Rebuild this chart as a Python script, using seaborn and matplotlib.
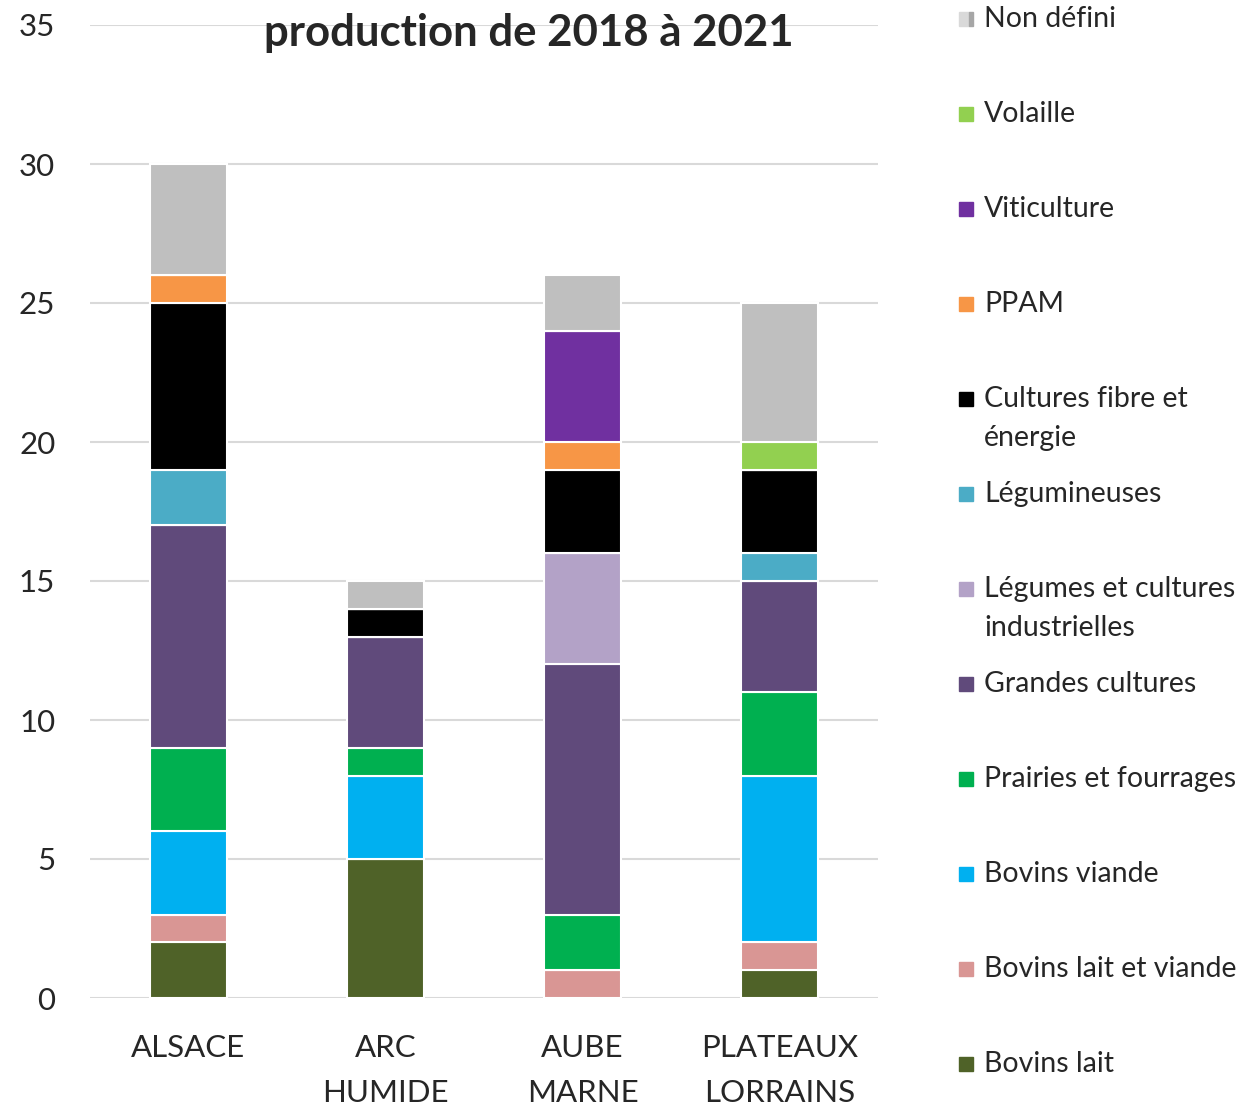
import matplotlib
matplotlib.use("Agg")
import matplotlib.pyplot as plt
import seaborn as sns
import numpy as np
from matplotlib.patches import Rectangle

regions = ["ALSACE", "ARC\nHUMIDE", "AUBE\nMARNE", "PLATEAUX\nLORRAINS"]

types = ["Bovins lait", "Bovins lait et viande", "Bovins viande", "Prairies et fourrages",
         "Grandes cultures", "Légumes et cultures industrielles", "Légumineuses",
         "Cultures fibre et énergie", "PPAM", "Viticulture", "Volaille", "Non défini"]

bovins_lait = [2, 5, 0, 1]
bovins_lait_viande = [1, 0, 1, 1]
bovins_viande = [3, 3, 0, 6]
prairies = [3, 1, 2, 3]
grandes_cultures = [8, 4, 9, 4]
legumes = [0, 0, 4, 0]
legumineuses = [2, 0, 0, 1]
fibre = [6, 1, 3, 3]
ppam = [1, 0, 1, 0]
viticulture = [0, 0, 4, 0]
volaille = [0, 0, 0, 1]
non_defini = [4, 1, 2, 5]

series = [bovins_lait, bovins_lait_viande, bovins_viande, prairies, grandes_cultures,
          legumes, legumineuses, fibre, ppam, viticulture, volaille, non_defini]

colors = ["#4F6228", "#D99694", "#00B0F0", "#00B050", "#604A7B", "#B3A2C7",
          "#4BACC6", "#000000", "#F79646", "#7030A0", "#92D050", "#BFBFBF"]

legend_labels = [["Bovins lait"], ["Bovins lait et viande"], ["Bovins viande"],
                 ["Prairies et fourrages"], ["Grandes cultures"],
                 ["Légumes et cultures", "industrielles"], ["Légumineuses"],
                 ["Cultures fibre et", "énergie"], ["PPAM"], ["Viticulture"],
                 ["Volaille"], ["Non défini"]]

title = "production de 2018 à 2021"

sns.set_style("white")
plt.rcParams['font.family'] = ['Lato', 'DejaVu Sans']

W, H = 1249, 1106
fig = plt.figure(figsize=(W / 100, H / 100), dpi=100)
ax = fig.add_axes([90 / W, 1 - 998 / H, 788 / W, 973 / H])

bottom = np.zeros(len(regions))
for vals, col in zip(series, colors):
    sns.barplot(x=regions, y=vals, bottom=bottom, color=col, saturation=1,
                width=0.39, edgecolor="white", linewidth=1.5, errorbar=None,
                order=regions, ax=ax)
    bottom = bottom + np.array(vals)

ax.set_xlim(-0.5, 3.5)
ax.set_ylim(0, 35)
ax.set_yticks(range(0, 36, 5))
ax.yaxis.grid(True, color="#D9D9D9", linewidth=1.5)
ax.xaxis.grid(False)
ax.set_axisbelow(True)
for s in ax.spines.values():
    s.set_visible(False)
ax.tick_params(axis="y", length=0, pad=25, labelsize=22.5)
ax.tick_params(axis="x", length=0, pad=26, labelsize=22.5)
for lab in ax.get_xticklabels():
    lab.set_linespacing(1.75)
ax.set_xlabel("")
ax.set_ylabel("")

fig.text(529 / W, 1 - 33 / H, title, ha="center", va="center",
         fontsize=31.5, fontweight="bold")

# legend (top entry = last series)
for i, (lines, col) in enumerate(zip(legend_labels[::-1], colors[::-1])):
    yc = 19 + 95 * i
    if col == "#BFBFBF":
        fig.add_artist(Rectangle((959 / W, 1 - (yc + 7) / H), 10 / W, 14 / H,
                                 transform=fig.transFigure, color="#D9D9D9"))
        fig.add_artist(Rectangle((969 / W, 1 - (yc + 7) / H), 4 / W, 14 / H,
                                 transform=fig.transFigure, color="#A6A6A6"))
    else:
        fig.add_artist(Rectangle((959 / W, 1 - (yc + 7) / H), 14 / W, 14 / H,
                                 transform=fig.transFigure, color=col))
    for j, line in enumerate(lines):
        fig.text(984 / W, 1 - (yc + 39 * j) / H, line, ha="left", va="center",
                 fontsize=20.5)

fig.savefig("out.png", dpi=100)
